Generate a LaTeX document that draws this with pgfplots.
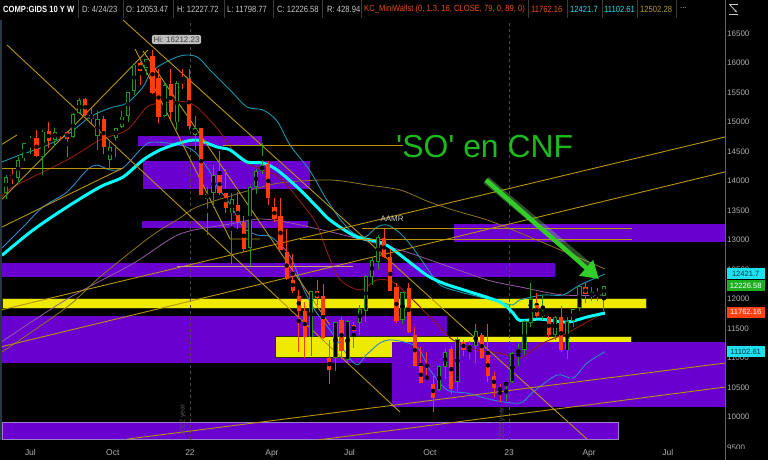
\documentclass[border=0pt]{standalone}
\usepackage{fontspec}
\setmainfont{Liberation Sans}
\newfontfamily\hdrfont[FakeStretch=0.85]{Liberation Sans}
\usepackage{pgfplots}
\usepackage{pgfplotstable}
\pgfplotsset{compat=1.18}
\usetikzlibrary{arrows.meta}

\definecolor{kpurple}{RGB}{106,0,208}
\definecolor{kyellow}{RGB}{238,234,0}
\definecolor{kyedge}{RGB}{45,45,0}
\definecolor{kgold}{RGB}{184,148,12}
\definecolor{ktan}{RGB}{200,160,110}
\definecolor{kcyan}{RGB}{0,255,255}
\definecolor{kteal}{RGB}{26,150,175}
\definecolor{kblue}{RGB}{45,135,205}
\definecolor{kdred}{RGB}{140,30,16}
\definecolor{kmauve}{RGB}{150,90,165}
\definecolor{kolive}{RGB}{140,118,30}
\definecolor{cup}{RGB}{32,150,32}
\definecolor{cdn}{RGB}{255,60,10}
\definecolor{tickgray}{RGB}{175,175,175}
\definecolor{hdrgray}{RGB}{200,200,200}
\definecolor{sepgray}{RGB}{60,60,60}
\definecolor{dashgray}{RGB}{75,75,75}
\definecolor{arrowgreen}{RGB}{50,205,40}
\definecolor{txtgreen}{RGB}{30,185,30}
\definecolor{lblcyan}{RGB}{30,225,240}
\definecolor{lbltext}{RGB}{10,50,70}
\definecolor{lblgreen}{RGB}{30,175,30}
\definecolor{lblred}{RGB}{255,64,16}
\definecolor{korange}{RGB}{232,80,26}
\definecolor{hdrolive}{RGB}{176,154,40}
\definecolor{lavender}{RGB}{150,125,200}
\definecolor{hibox}{RGB}{190,190,190}

% weekly candles, index 0 = week of 7 Jun 2021
\pgfplotstableread{
i o h l c
0 13800 14100 13700 14069
2 14050 14400 13960 14360
3 14380 14650 14330 14639
4 14660 14760 14450 14701
6 14400 14870 14100 14837
8 14700 14900 14600 14835
11 14740 15150 14720 15130
12 15150 15400 15130 15363
15 14760 15180 14530 15048
17 14360 14660 14180 14580
18 14730 14900 14400 14897
19 14910 15180 14890 15090
20 15100 15500 15000 15498
21 15530 15980 15450 15971
23 15920 16060 15800 16057
26 15100 15650 15080 15630
28 14990 15700 14860 15653
31 14780 15100 14530 14894
33 13700 13900 13090 13771
34 13800 14260 13540 14098
37 13450 13800 12590 13694
40 12860 13930 12560 13893
41 13900 14200 13780 14169
42 14170 14650 14120 14262
50 11350 12130 11040 12131
54 11000 11610 10780 11608
56 10970 11650 10910 11635
58 11600 11900 11400 11835
59 11800 12400 11620 12391
60 12380 12700 12240 12657
61 12630 13090 12490 13047
65 11640 12120 11580 12112
71 10460 10880 10440 10860
72 10850 11150 10650 11102
74 10600 11360 10450 11323
76 11130 11290 10980 11226
77 11200 11570 10920 11461
82 10560 10600 10270 10570
83 10600 11100 10580 11079
84 11080 11250 10860 11140
85 11140 11640 11060 11622
86 11600 12270 11520 12007
88 11720 12070 11640 11787
90 11400 11710 11300 11690
92 11130 11700 10980 11630
93 11630 11830 11520 11824
94 11850 12230 11800 12222
96 12030 12200 11970 12123
98 12053 12228 11799 12227
}\upc

\pgfplotstableread{
i o h l c
1 14100 14200 13950 14030
5 14730 14860 14400 14427
7 14850 15000 14550 14673
9 14860 14880 14700 14823
10 14830 14850 14400 14715
13 15380 15405 15100 15115
14 15120 15250 14950 15044
16 15050 15100 14450 14567
22 15990 16020 15630 15861
24 16120 16212 15470 15491
25 15740 15900 14980 15085
27 15640 15900 15050 15169
29 15710 15900 15550 15645
30 15730 15900 14860 14936
32 14900 14900 13770 13768
35 14100 14500 13760 13791
36 13800 14200 13460 13548
38 13600 13810 13180 13313
39 13300 13400 12800 12843
43 14290 14340 13600 13711
44 13560 13710 13300 13351
45 13400 13710 12830 12839
46 12800 13180 12330 12335
47 12330 12760 12100 12145
48 12050 12150 11110 11805
49 11800 11950 11000 11355
51 12140 12320 11900 12013
52 12050 12250 11330 11340
53 11000 11300 10565 10798
55 11650 11700 10990 11128
57 11560 11620 11170 11452
62 13040 13180 12700 12705
63 12710 12840 12140 12142
64 12200 12270 11600 11631
66 12190 12270 11430 11448
67 11400 11530 10860 10868
68 10860 11180 10580 10576
69 10690 11110 10630 10652
70 10570 10700 10090 10321
73 11150 11200 10400 10475
75 11270 11310 11030 11146
78 11400 11420 10990 11005
79 11050 11570 10600 10705
80 10700 10760 10350 10498
81 10490 10560 10260 10466
87 11900 12100 11700 11718
89 11700 11710 11340 11395
91 11700 11880 11110 11138
95 12200 12280 11930 12088
97 12110 12180 11960 12073
}\dnc

\begin{document}
\begin{tikzpicture}[x=1bp,y=1bp]
% page frame: page pixel (px,py) -> tikz (px-2, 440-py)
\begin{scope}[shift={(-2,-20)}]
\fill[black] (0,0) rectangle (768,460);
\end{scope}
\begin{axis}[
  width=723bp, height=420bp, scale only axis,
  xmin=-0.66, xmax=117.87, ymin=9614, ymax=16725,
  axis background/.style={fill=black},
  axis line style={draw=none},
  major tick length=0pt,
  clip mode=individual,
  xtick={4.0,17.5,30.16,43.6,56.3,69.5,82.46,95.6,108.5},
  xticklabels={Jul,Oct,22,Apr,Jul,Oct,23,Apr,Jul},
  xticklabel style={font=\fontsize{8.5}{9}\selectfont, text=tickgray, anchor=north, inner sep=0pt, yshift=-9bp},
  ytick={10000,10500,11000,11500,12000,12500,13000,13500,14000,14500,15000,15500,16000,16500},
  yticklabels={10000,10500,11000,11500,12000,12500,13000,13500,14000,14500,15000,15500,16000,16500},
  yticklabel pos=right,
  yticklabel style={font=\fontsize{8}{9}\selectfont, text=tickgray, anchor=west, inner sep=0pt, xshift=2bp},
]

% ---- zones
\addplot[fill=kpurple, draw=none, forget plot] coordinates {(21.64,14592) (41.97,14592) (41.97,14761) (21.64,14761)} --cycle;
\addplot[fill=kpurple, draw=none, forget plot] coordinates {(22.46,13864) (49.84,13864) (49.84,14338) (22.46,14338)} --cycle;
\addplot[fill=kpurple, draw=none, forget plot] coordinates {(22.30,13203) (49.51,13203) (49.51,13321) (22.30,13321)} --cycle;
\addplot[fill=kpurple, draw=none, forget plot] coordinates {(73.44,12967) (117.87,12967) (117.87,13271) (73.44,13271)} --cycle;
\addplot[fill=kpurple, draw=none, forget plot] coordinates {(-0.66,12374) (90.0,12374) (90.0,12611) (-0.66,12611)} --cycle;
\addplot[fill=kyellow, draw=kyedge, line width=1bp, forget plot] coordinates {(-0.66,11832) (104.92,11832) (104.92,12018) (-0.66,12018)} --cycle;
\addplot[fill=kpurple, draw=none, forget plot] coordinates {(-0.66,10917) (72.30,10917) (72.30,11713) (-0.66,11713)} --cycle;
\addplot[fill=kyellow, draw=kyedge, line width=1bp, forget plot] coordinates {(44.10,11018) (102.62,11018) (102.62,11358) (44.10,11358)} --cycle;
\addplot[fill=kpurple, draw=none, forget plot] coordinates {(63.28,10172) (117.87,10172) (117.87,11273) (63.28,11273)} --cycle;
\addplot[fill=kpurple, draw=lavender, line width=1bp, forget plot] coordinates {(-0.66,9629) (100.33,9629) (100.33,9917) (-0.66,9917)} --cycle;

% ---- year separators
\addplot[dashgray, dash pattern=on 3bp off 3bp, line width=0.8bp, forget plot] coordinates {(30.16,9614) (30.16,16725)};
\addplot[dashgray, dash pattern=on 3bp off 3bp, line width=0.8bp, forget plot] coordinates {(82.46,9614) (82.46,16725)};

% ---- moving averages / bands
\addplot[kmauve, line width=0.8bp, smooth, forget plot] coordinates {(-0.66,11280) (10.0,12000) (20.8,12600) (28.5,13100) (36.7,13270) (41.6,13355) (46.6,13290) (55.3,13085) (64.6,12830) (71.2,12600) (78.9,12323) (84.3,12205) (91.3,12069) (98.2,12069)};
\addplot[kolive, line width=0.8bp, smooth, forget plot] coordinates {(-0.66,11103) (10.0,11865) (15.4,12374) (23.6,13051) (28.5,13372) (31.3,13559) (38.4,13796) (44.9,13966) (53.1,14016) (59.2,13932) (64.6,13847) (69.0,13660) (73.3,13507) (78.9,13338) (84.3,13119) (98.2,12510)};
\addplot[kteal, line width=0.9bp, smooth, forget plot] coordinates {(-0.66,14321) (2.30,14440) (6.07,14575) (10.0,14778) (13.77,15083) (17.05,15235) (19.84,15320) (22.46,15591) (24.10,15879) (28.52,16116) (31.31,16100) (33.44,15879) (36.72,15540) (39.51,15252) (42.13,15201) (44.43,15015) (46.56,14609) (49.84,14170) (52.30,13728) (54.75,13355) (56.89,13120) (58.85,13051) (60.82,13220) (62.46,13254) (64.59,13119) (66.72,12866) (69.02,12526) (71.15,12239) (74.43,12120) (77.70,12035) (80.98,11950) (83.11,11900) (84.26,11985) (88.03,12069) (91.31,12069) (94.10,12239) (98.20,12425)};
\addplot[kblue, line width=0.9bp, smooth, forget plot] coordinates {(-0.66,12866) (2.80,13220) (6.07,13559) (10.0,13813) (13.28,14186) (14.92,14270) (17.05,14186) (19.18,14220) (22.46,14575) (24.10,14659) (28.52,14609) (31.0,14490) (33.44,14152) (34.59,13915) (36.72,13610) (38.85,13220) (41.15,13085) (43.44,13051) (46.56,12730) (48.69,12190) (50.7,11800) (53.11,11476) (57.21,10900) (59.0,11050) (61.31,11256) (63.44,11307) (67.38,11188) (69.51,10798) (72.30,10460) (75.57,10409) (79.84,10290) (84.26,10240) (86.39,10426) (90.33,10714) (92.95,10663) (95.25,10917) (98.20,11110)};
\addplot[kdred, line width=0.9bp, smooth, forget plot] coordinates {(-0.66,13728) (1.15,13898) (10.0,14355) (15.41,14693) (19.84,14863) (23.11,15252) (25.74,15320) (29.67,15337) (31.80,15201) (35.08,14829) (38.36,14372) (42.13,14186) (44.92,14050) (48.69,13592) (51.0,13254) (52.62,12800) (54.75,12330) (58.03,12154) (60.82,12323) (63.44,12289) (66.23,12035) (70.00,11645) (73.28,11307) (77.21,11137) (80.98,11086) (84.26,11002) (88.03,11256) (91.97,11425) (95.25,11611) (98.20,11770)};
\addplot[kcyan, line width=3bp, smooth, forget plot] coordinates {(-0.66,12740) (4.43,13169) (10.0,13559) (15.41,13898) (19.18,14067) (22.46,14355) (25.25,14524) (28.52,14643) (31.31,14693) (34.59,14575) (36.72,14524) (39.51,14321) (42.13,14304) (44.43,14186) (47.70,13898) (50.98,13559) (53.11,13338) (57.21,13066) (60.49,12984) (62.62,12900) (65.90,12645) (69.18,12391) (72.0,12255) (75.57,12137) (80.98,11950) (83.11,11765) (84.26,11640) (87.54,11660) (91.97,11611) (95.25,11696) (98.20,11764)};

% ---- trend lines
\addplot[kgold, line width=0.9bp, forget plot] coordinates {(-0.66,11820) (117.87,14744)};
\addplot[kgold, line width=0.9bp, forget plot] coordinates {(-0.66,11195) (117.87,14152)};
\addplot[kgold, line width=0.9bp, forget plot] coordinates {(19.84,9629) (117.87,10917)};
\addplot[kgold, line width=0.9bp, forget plot] coordinates {(51.15,9614) (117.87,10510)};
\addplot[kgold, line width=0.9bp, forget plot] coordinates {(0.16,16302) (64.59,10087)};
\addplot[kgold, line width=0.9bp, forget plot] coordinates {(19.18,16725) (95.25,9629)};
\addplot[kgold, line width=0.9bp, forget plot] coordinates {(-0.66,13220) (19.18,14220)};
\addplot[kgold, line width=0.9bp, forget plot] coordinates {(-0.66,13690) (23.28,16217)};
\addplot[kgold, line width=0.9bp, forget plot] coordinates {(-0.66,14620) (1.80,14778)};
\addplot[kgold, line width=0.9bp, forget plot] coordinates {(-0.66,14203) (19.18,14203)};
\addplot[ktan, line width=0.9bp, forget plot] coordinates {(28.03,12560) (56.89,12560)};
\addplot[kgold, line width=0.9bp, forget plot] coordinates {(58.36,13203) (102.62,13203)};
\addplot[kgold, line width=0.9bp, forget plot] coordinates {(48.20,13017) (102.62,13017)};
\addplot[kgold, line width=0.9bp, forget plot] coordinates {(35.57,14609) (65.08,14609)};
\addplot[kgold, line width=0.9bp, forget plot] coordinates {(21.15,16234) (36.72,13017) (41.64,13017)};
\addplot[kgold, line width=0.9bp, forget plot] coordinates {(22.46,16200) (53.11,11560)};

% ---- candles: wicks
\addplot[only marks, mark=none, forget plot, error bars/.cd, y dir=both, y explicit, error mark=none, error bar style={draw=cup, line width=0.9bp}]
  table[x=i, y expr={(\thisrow{h}+\thisrow{l})/2}, y error expr={(\thisrow{h}-\thisrow{l})/2}]{\upc};
\addplot[only marks, mark=none, forget plot, error bars/.cd, y dir=both, y explicit, error mark=none, error bar style={draw=cdn, line width=0.9bp}]
  table[x=i, y expr={(\thisrow{h}+\thisrow{l})/2}, y error expr={(\thisrow{h}-\thisrow{l})/2}]{\dnc};
% bodies
\addplot[only marks, mark=none, forget plot, error bars/.cd, y dir=both, y explicit, error mark=none, error bar style={draw=cup, line width=4.2bp}]
  table[x=i, y expr={(\thisrow{o}+\thisrow{c})/2}, y error expr={max(abs(\thisrow{c}-\thisrow{o})/2,9)}]{\upc};
\addplot[only marks, mark=none, forget plot, error bars/.cd, y dir=both, y explicit, error mark=none, error bar style={draw=black, line width=2.4bp}]
  table[x=i, y expr={(\thisrow{o}+\thisrow{c})/2}, y error expr={max(abs(\thisrow{c}-\thisrow{o})/2-15,0)}]{\upc};
\addplot[only marks, mark=none, forget plot, error bars/.cd, y dir=both, y explicit, error mark=none, error bar style={draw=cdn, line width=4.2bp}]
  table[x=i, y expr={(\thisrow{o}+\thisrow{c})/2}, y error expr={max(abs(\thisrow{c}-\thisrow{o})/2,9)}]{\dnc};

% ---- arrow
\addplot[arrowgreen!60!white, opacity=0.35, line width=8bp, forget plot] coordinates {(78.69,14016) (95.9,12520)};
\addplot[arrowgreen, line width=4.5bp, -{Triangle[length=17bp,width=20bp]}, forget plot] coordinates {(78.69,14016) (97.2,12340)};

% ---- annotations
\node[anchor=base west, inner sep=0pt, text=txtgreen, font=\fontsize{32}{32}\selectfont] at (axis cs:63.93,14389) {\textquotesingle SO\textquotesingle\ en CNF};
\node[fill=hibox, rounded corners=2bp, inner sep=1.6bp, text=black!75, font=\fontsize{8}{9}\selectfont] at (axis cs:27.95,16395) {Hi: 16212.23};
\node[text=hdrgray, inner sep=0pt, font=\fontsize{8}{9}\selectfont] at (axis cs:63.28,13356) {AAMR};
\node[rotate=90, text=black!65, inner sep=0pt, font=\fontsize{7}{8}\selectfont] at (axis cs:29.0,9960) {2022 year};
\node[rotate=90, text=black!65, inner sep=0pt, font=\fontsize{7}{8}\selectfont] at (axis cs:81.3,9900) {2023 year};

\coordinate (la) at (axis cs:117.87,12425);
\coordinate (lb) at (axis cs:117.87,12222);
\coordinate (lc) at (axis cs:117.87,11777);
\coordinate (ld) at (axis cs:117.87,11110);
\end{axis}

\begin{scope}[shift={(-2,-20)}]
% right axis line and left edge
\draw[color=black!60, line width=0.8bp] (725.5,0) -- (725.5,460);
\draw[color={rgb,255:red,40;green,55;blue,65}, line width=1.5bp] (1.2,20) -- (1.2,440);
% partly hidden 9500 tick label
\begin{scope}
\clip (726,11.5) rectangle (768,20);
\node[anchor=west, inner sep=0pt, text=tickgray, font=\fontsize{8}{9}\selectfont] at (727,12.6) {9500};
\end{scope}
\end{scope}

% price labels
\begin{scope}[every node/.style={anchor=west, inner sep=1bp, font=\fontsize{7.6}{8}\selectfont, minimum width=38bp, minimum height=11bp}]
\node[fill=lblcyan, text=lbltext] at ([xshift=1.5bp]la) {12421.7};
\node[fill=lblgreen, text=white] at ([xshift=1.5bp]lb) {12226.58};
\node[fill=lblred, text=white] at ([xshift=1.5bp]lc) {11762.16};
\node[fill=lblcyan, text=lbltext] at ([xshift=1.5bp]ld) {11102.61};
\end{scope}

% header
\begin{scope}[shift={(-2,-20)}]
\fill[black] (0,442) rectangle (725,460);
\begin{scope}[every node/.style={anchor=west, inner sep=0pt, font=\hdrfont\fontsize{9}{10}\selectfont, text=hdrgray}]
\node[font=\hdrfont\bfseries\fontsize{9}{10}\selectfont, text=white] at (3,451) {COMP:GIDS 10 Y W};
\node at (82,451) {D: 4/24/23};
\node at (126,451) {O: 12053.47};
\node at (177,451) {H: 12227.72};
\node at (227,451) {L: 11798.77};
\node at (277,451) {C: 12226.58};
\node at (327,451) {R: 428.94};
\node[text=korange] at (364,451) {KC\_MiniWallst (0, 1.3, 16, CLOSE, 79, 0, 89, 0)};
\node[text=korange] at (531,451) {11762.16};
\node[text=lblcyan] at (570,451) {12421.7};
\node[text=lblcyan] at (604,451) {11102.61};
\node[text=hdrolive] at (640,451) {12502.28};
\node at (680,452) {...};
\end{scope}
\foreach \sx in {78,123,173,224,273,322,361,528,567,602,637,676} {
  \draw[sepgray, line width=0.8bp] (\sx,442) -- (\sx,460);
}
% tool icon
\draw[hdrgray, line width=0.8bp] (729,456) -- (738,456);
\draw[hdrgray, line width=0.8bp] (729,446) -- (738,446);
\draw[hdrgray, line width=0.8bp, -{Stealth[length=3bp]}] (730,455) -- (737,447.5);
\end{scope}

\pgfresetboundingbox
\path[use as bounding box] (-2,-20) rectangle (766,440);
\end{tikzpicture}
\end{document}
